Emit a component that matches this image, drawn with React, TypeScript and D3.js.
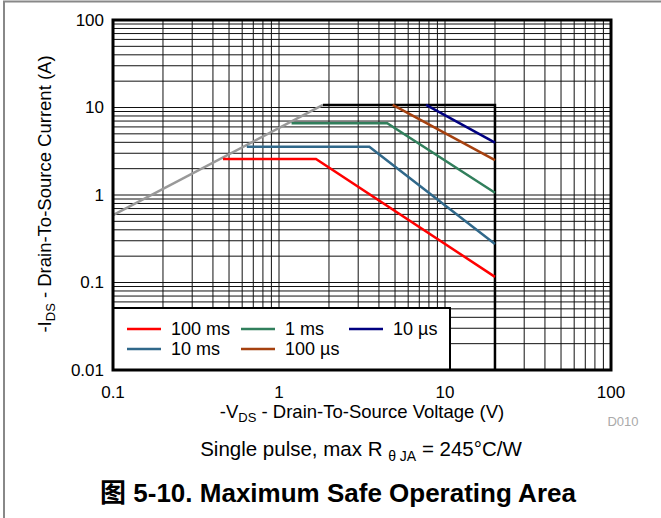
import React, { useEffect, useRef } from "react";
import * as d3 from "d3";

// axis ranges and ticks
const xDomain = [0.1, 100];
const yDomain = [0.01, 100];
const xTicks = [0.1, 1, 10, 100];
const xTickLabels = ["0.1", "1", "10", "100"];
const yTicks = [0.01, 0.1, 1, 10, 100];
const yTickLabels = ["0.01", "0.1", "1", "10", "100"];

// R_DS(on) limit and package/BV limit
const rdsLimitV = [0.1, 1.84];
const rdsLimitI = [0.59, 10.7];
const boundV = [1.84, 20, 20];
const boundI = [10.7, 10.7, 0.01];

// pulse curves
const seriesNames = ["100 ms", "10 ms", "1 ms", "100 µs", "10 µs"];
const seriesColors = ["#ff0000", "#30688a", "#317f5c", "#a5410f", "#000080"];
const v100ms = [0.46, 1.67, 20];
const i100ms = [2.58, 2.58, 0.116];
const v10ms = [0.64, 3.5, 20];
const i10ms = [3.56, 3.56, 0.275];
const v1ms = [1.19, 4.49, 20];
const i1ms = [6.6, 6.6, 1.06];
const v100us = [4.84, 20];
const i100us = [10.7, 2.51];
const v10us = [7.69, 20];
const i10us = [10.7, 3.96];

const font = "'Liberation Sans', Arial, 'Noto Sans CJK SC', sans-serif";

const App = () => {
  const ref = useRef<SVGSVGElement>(null);

  useEffect(() => {
    const width = 661;
    const height = 518;
    const m = { left: 113, top: 20, right: 611, bottom: 370 };

    const svg = d3.select(ref.current);
    svg.selectAll("*").remove();
    svg.attr("width", width).attr("height", height).style("font-family", font);

    const x = d3.scaleLog().domain(xDomain).range([m.left, m.right]);
    const y = d3.scaleLog().domain(yDomain).range([m.bottom, m.top]);

    // outer frame
    svg
      .append("rect")
      .attr("x", 4)
      .attr("y", 1.5)
      .attr("width", width + 10)
      .attr("height", height + 10)
      .attr("fill", "none")
      .attr("stroke", "#888")
      .attr("stroke-width", 2);

    // minor + major grid
    const minor = (dom: number[]) => {
      const out: number[] = [];
      for (let d = dom[0]; d < dom[1] * 0.99; d *= 10) {
        for (let k = 1; k < 10; k++) out.push(d * k);
      }
      out.push(dom[1]);
      return out;
    };

    const grid = svg.append("g").attr("stroke", "#111").attr("stroke-width", 1);
    grid
      .selectAll("line.v")
      .data(minor(xDomain))
      .join("line")
      .attr("x1", (d) => x(d))
      .attr("x2", (d) => x(d))
      .attr("y1", m.top)
      .attr("y2", m.bottom);
    grid
      .selectAll("line.h")
      .data(minor(yDomain))
      .join("line")
      .attr("y1", (d) => y(d))
      .attr("y2", (d) => y(d))
      .attr("x1", m.left)
      .attr("x2", m.right);

    const line = d3
      .line<[number, number]>()
      .x((d) => x(d[0]))
      .y((d) => y(d[1]));

    const zip = (a: number[], b: number[]) =>
      a.map((v, i) => [v, b[i]] as [number, number]);

    // legend box (drawn over the grid)
    const lg = svg.append("g");
    lg.append("rect")
      .attr("x", m.left)
      .attr("y", 308)
      .attr("width", 337)
      .attr("height", m.bottom - 308)
      .attr("fill", "white")
      .attr("stroke", "black")
      .attr("stroke-width", 2);

    // limits
    svg
      .append("path")
      .attr("d", line(zip(rdsLimitV, rdsLimitI)))
      .attr("fill", "none")
      .attr("stroke", "#999")
      .attr("stroke-width", 2.5);
    svg
      .append("path")
      .attr("d", line(zip(boundV, boundI)))
      .attr("fill", "none")
      .attr("stroke", "black")
      .attr("stroke-width", 2.5);

    const curves = [
      zip(v100ms, i100ms),
      zip(v10ms, i10ms),
      zip(v1ms, i1ms),
      zip(v100us, i100us),
      zip(v10us, i10us),
    ];
    svg
      .append("g")
      .selectAll("path")
      .data(curves)
      .join("path")
      .attr("d", (d) => line(d))
      .attr("fill", "none")
      .attr("stroke", (_, i) => seriesColors[i])
      .attr("stroke-width", 2.5);

    // plot frame
    svg
      .append("rect")
      .attr("x", m.left)
      .attr("y", m.top)
      .attr("width", m.right - m.left)
      .attr("height", m.bottom - m.top)
      .attr("fill", "none")
      .attr("stroke", "black")
      .attr("stroke-width", 3);

    // legend entries: order in columns
    const legendPos = [
      [127, 329],
      [127, 349],
      [241, 329],
      [241, 349],
      [349, 329],
    ];
    seriesNames.forEach((name, k) => {
      const [lx, ly] = legendPos[k];
      lg.append("line")
        .attr("x1", lx)
        .attr("x2", lx + 34)
        .attr("y1", ly)
        .attr("y2", ly)
        .attr("stroke", seriesColors[k])
        .attr("stroke-width", 2.5);
      lg.append("text")
        .attr("x", lx + 44)
        .attr("y", ly)
        .attr("dy", "0.35em")
        .attr("font-size", 18)
        .text(name);
    });

    // tick labels
    svg
      .append("g")
      .attr("font-size", 17)
      .attr("text-anchor", "middle")
      .selectAll("text")
      .data(xTicks)
      .join("text")
      .attr("x", (d) => x(d))
      .attr("y", 392)
      .attr("dy", "0.35em")
      .text((_, i) => xTickLabels[i]);
    svg
      .append("g")
      .attr("font-size", 17)
      .attr("text-anchor", "end")
      .selectAll("text")
      .data(yTicks)
      .join("text")
      .attr("x", 104)
      .attr("y", (d) => y(d))
      .attr("dy", "0.35em")
      .text((_, i) => yTickLabels[i]);

    // axis titles
    const xt = svg
      .append("text")
      .attr("x", (m.left + m.right) / 2)
      .attr("y", 412)
      .attr("dy", "0.35em")
      .attr("text-anchor", "middle")
      .attr("font-size", 18.5);
    xt.append("tspan").text("-V");
    xt.append("tspan").attr("font-size", 13).attr("dy", 4).text("DS");
    xt.append("tspan").attr("dy", -4).text(" - Drain-To-Source Voltage (V)");

    const yt = svg
      .append("text")
      .attr("transform", `translate(45,194) rotate(-90)`)
      .attr("dy", "0.35em")
      .attr("text-anchor", "middle")
      .attr("font-size", 18.5);
    yt.append("tspan").text("-I");
    yt.append("tspan").attr("font-size", 13).attr("dy", 4).text("DS");
    yt.append("tspan").attr("dy", -4).text(" - Drain-To-Source Current (A)");

    svg
      .append("text")
      .attr("x", 623)
      .attr("y", 421)
      .attr("dy", "0.35em")
      .attr("text-anchor", "middle")
      .attr("font-size", 13)
      .attr("fill", "#aaa")
      .text("D010");

    const note = svg
      .append("text")
      .attr("x", 361)
      .attr("y", 449)
      .attr("dy", "0.35em")
      .attr("text-anchor", "middle")
      .attr("font-size", 20.5);
    note.append("tspan").text("Single pulse, max R ");
    note.append("tspan").attr("font-size", 14).attr("dy", 5).text("θ JA");
    note.append("tspan").attr("dy", -5).text(" = 245°C/W");

    svg
      .append("text")
      .attr("x", 338)
      .attr("y", 493)
      .attr("dy", "0.35em")
      .attr("text-anchor", "middle")
      .attr("font-size", 26)
      .attr("font-weight", "bold")
      .text("图 5-10. Maximum Safe Operating Area");
  }, []);

  return (
    <svg
      ref={ref}
      style={{ position: "absolute", left: 0, top: 0, background: "white" }}
    />
  );
};

export default App;
